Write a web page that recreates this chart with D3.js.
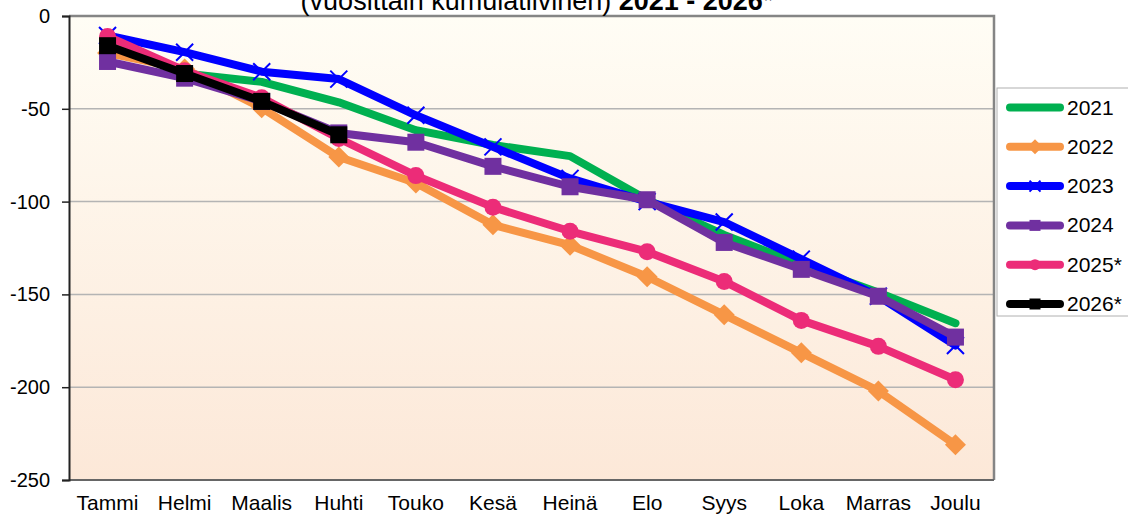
<!DOCTYPE html>
<html>
<head>
<meta charset="utf-8">
<script src="https://cdn.jsdelivr.net/npm/d3@7"></script>
<style>
  body { margin: 0; background: #fff; }
  svg { font-family: "Liberation Sans", Arial, sans-serif; }
</style>
</head>
<body>
<svg width="1128" height="517"></svg>
<script>
let months = ["Tammi", "Helmi", "Maalis", "Huhti", "Touko", "Kesä", "Heinä", "Elo", "Syys", "Loka", "Marras", "Joulu"];
let yTicks = [0, -50, -100, -150, -200, -250];
let seriesNames = ["2021", "2022", "2023", "2024", "2025*", "2026*"];
let seriesColors = ["#00b050", "#f79646", "#0000ff", "#7030a0", "#ec2c78", "#000000"];
let seriesMarkers = ["none", "diamond", "x", "square", "circle", "square"];

let v2021 = [-13, -31, -35.5, -46.5, -61.5, -69.5, -75.5, -99, -118, -134, -149, -165.5];
let v2022 = [-20, -28.5, -49.5, -76, -90, -112.5, -123.5, -140.5, -161, -181.5, -202, -231];
let v2023 = [-10.5, -19.5, -30, -34, -53.5, -70.5, -87.5, -100, -111, -131, -151, -177.5];
let v2024 = [-24.5, -33.5, -46, -63, -68, -81, -92, -99, -122, -136.5, -151, -173];
let v2025 = [-11, -29.5, -44, -66, -86, -103, -116, -127, -143, -164, -178, -196];
let v2026 = [-16, -31, -46, -64];

let allValues = [v2021, v2022, v2023, v2024, v2025, v2026];

let margin = {top: 16, right: 134, bottom: 37, left: 69};
let width = 1128 - margin.left - margin.right;
let height = 517 - margin.top - margin.bottom;

var svg = d3.select("svg");

// background gradient of the plot area
var defs = svg.append("defs");
var grad = defs.append("linearGradient").attr("id", "bg").attr("x1", 0).attr("y1", 0).attr("x2", 0).attr("y2", 1);
grad.append("stop").attr("offset", "0%").attr("stop-color", "#fffdf5");
grad.append("stop").attr("offset", "100%").attr("stop-color", "#fce8d8");

var g = svg.append("g").attr("transform", "translate(" + margin.left + "," + margin.top + ")");

var x = d3.scaleBand().domain(months).range([0, width]);
var y = d3.scaleLinear().domain([-250, 0]).range([height, 0]);

g.append("rect")
  .attr("width", width).attr("height", height)
  .attr("fill", "url(#bg)");

// gridlines
g.append("g")
  .selectAll("line")
  .data(yTicks.filter(d => d !== 0 && d !== -250))
  .join("line")
  .attr("x1", 0).attr("x2", width)
  .attr("y1", d => y(d)).attr("y2", d => y(d))
  .attr("stroke", "#b4b4b4")
  .attr("stroke-width", 1.5);

// frame: top and right gray
g.append("path")
  .attr("d", "M0," + y(0) + "H" + width + "V" + height)
  .attr("fill", "none")
  .attr("stroke", "#858585")
  .attr("stroke-width", 2.5);

// bottom axis line
g.append("line")
  .attr("x1", 0).attr("x2", width)
  .attr("y1", height).attr("y2", height)
  .attr("stroke", "#666")
  .attr("stroke-width", 2);

// y axis
var yAxis = g.append("g")
  .call(d3.axisLeft(y).tickValues(yTicks).tickSize(7).tickPadding(12).tickFormat(d => String(d)));
yAxis.select(".domain").attr("stroke", "#222").attr("stroke-width", 2);
yAxis.selectAll(".tick line").attr("stroke", "#222").attr("stroke-width", 1.5);
yAxis.selectAll("text").attr("font-size", 20).attr("fill", "#000").attr("font-family", "Liberation Sans, Arial, sans-serif");

// x labels
var xAxis = g.append("g")
  .attr("transform", "translate(0," + height + ")")
  .call(d3.axisBottom(x).tickSize(0).tickPadding(15));
xAxis.select(".domain").remove();
xAxis.selectAll("text").attr("font-size", 21).attr("fill", "#000").attr("font-family", "Liberation Sans, Arial, sans-serif");

function drawMarker(sel, type, color, size) {
  if (type === "square") {
    sel.append("rect")
      .attr("x", -size / 2).attr("y", -size / 2)
      .attr("width", size).attr("height", size)
      .attr("fill", color);
  } else if (type === "circle") {
    sel.append("circle").attr("r", size / 2).attr("fill", color);
  } else if (type === "diamond") {
    var h = size / 2 + 2;
    sel.append("path")
      .attr("d", "M0," + (-h) + "L" + h + ",0L0," + h + "L" + (-h) + ",0Z")
      .attr("fill", color);
  } else if (type === "x") {
    var s = size / 2;
    sel.append("path")
      .attr("d", "M" + (-s) + "," + (-s) + "L" + s + "," + s + "M" + (-s) + "," + s + "L" + s + "," + (-s))
      .attr("stroke", color).attr("stroke-width", 2).attr("fill", "none");
  }
}

var line = d3.line()
  .x((d, i) => x(months[i]) + x.bandwidth() / 2)
  .y(d => y(d));

allValues.forEach(function(vals, si) {
  g.append("path")
    .datum(vals)
    .attr("fill", "none")
    .attr("stroke", seriesColors[si])
    .attr("stroke-width", 8)
    .attr("stroke-linejoin", "round")
    .attr("stroke-linecap", "round")
    .attr("d", line);

  g.append("g").selectAll("g")
    .data(vals)
    .join("g")
    .attr("transform", (d, i) => "translate(" + (x(months[i]) + x.bandwidth() / 2) + "," + y(d) + ")")
    .each(function() { drawMarker(d3.select(this), seriesMarkers[si], seriesColors[si], 17); });
});

// title (top half is clipped off the page, as in the original)
var title = svg.append("text")
  .attr("x", 537).attr("y", 10)
  .attr("text-anchor", "middle")
  .attr("font-size", 27)
  .attr("fill", "#000");
title.append("tspan").text("(vuosittain kumulatiivinen) ");
title.append("tspan").attr("font-weight", "bold").text("2021 - 2026");
title.append("tspan").text("*");

// legend
var legend = svg.append("g").attr("transform", "translate(997,88)");
legend.append("rect")
  .attr("width", 140).attr("height", 228)
  .attr("fill", "#fff")
  .attr("stroke", "#b0b0b0")
  .attr("stroke-width", 1);

seriesNames.forEach(function(name, i) {
  var row = legend.append("g").attr("transform", "translate(0," + (19.5 + i * 39.3) + ")");
  row.append("line")
    .attr("x1", 13).attr("x2", 63)
    .attr("stroke", seriesColors[i])
    .attr("stroke-width", 8)
    .attr("stroke-linecap", "round");
  var m = row.append("g").attr("transform", "translate(38,0)");
  drawMarker(m, seriesMarkers[i], seriesColors[i], 11);
  row.append("text")
    .attr("x", 70).attr("y", 7)
    .attr("font-size", 21)
    .attr("fill", "#000")
    .text(name);
});
</script>
</body>
</html>
